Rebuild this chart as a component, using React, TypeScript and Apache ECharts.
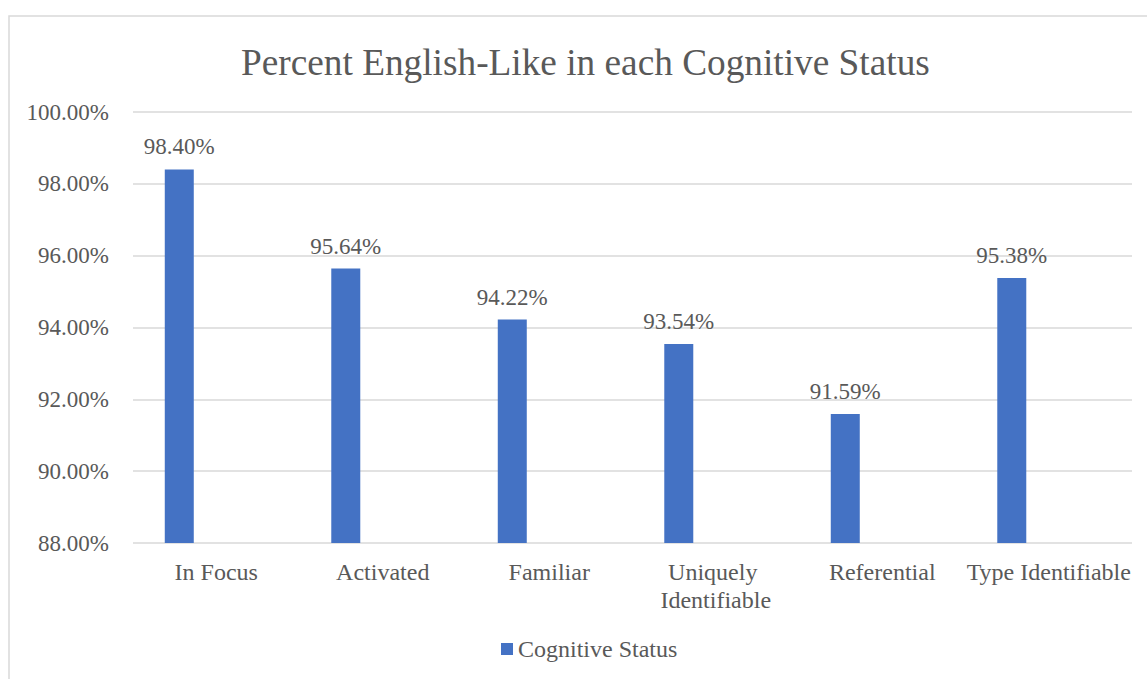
import React, { useEffect, useRef } from "react";
import * as echarts from "echarts";

const categories = [
  "In Focus",
  "Activated",
  "Familiar",
  "Uniquely Identifiable",
  "Referential",
  "Type Identifiable",
];
const englishLikePct = [98.4, 95.64, 94.22, 93.54, 91.59, 95.38];
const yMin = 88;
const yMax = 100;
const yStep = 2;

const FONT = "'Liberation Serif', 'Times New Roman', serif";
const TEXT = "#595959";
const GRID = "#D9D9D9";
const BAR = "#4472C4";

export default function App() {
  const ref = useRef<HTMLDivElement>(null);

  useEffect(() => {
    if (!ref.current) return;
    const chart = echarts.init(ref.current, undefined, { renderer: "svg" });
    chart.setOption({
      animation: false,
      backgroundColor: "#ffffff",
      textStyle: { fontFamily: FONT, color: TEXT },
      graphic: [
        {
          type: "rect",
          silent: true,
          shape: { x: 9, y: 16, width: 1160, height: 700 },
          style: { fill: "none", stroke: GRID, lineWidth: 1.5 },
          z: -1,
        },
      ],
      title: {
        text: "Percent English-Like in each Cognitive Status",
        left: 236,
        top: 39,
        textStyle: {
          fontFamily: FONT,
          fontSize: 37.3,
          fontWeight: "normal",
          color: TEXT,
        },
      },
      legend: {
        data: ["Cognitive Status"],
        bottom: 13,
        left: 496,
        icon: "rect",
        itemWidth: 12,
        itemHeight: 12,
        itemGap: 5,
        textStyle: { fontFamily: FONT, fontSize: 24, color: TEXT },
      },
      grid: { left: 133, right: 15, top: 112, bottom: 136 },
      xAxis: {
        type: "category",
        data: categories,
        axisLine: { show: false },
        axisTick: { show: false },
        axisLabel: {
          interval: 0,
          margin: 15,
          fontFamily: FONT,
          fontSize: 24,
          lineHeight: 28,
          color: TEXT,
          width: 172,
          overflow: "break",
        },
      },
      yAxis: {
        type: "value",
        min: yMin,
        max: yMax,
        interval: yStep,
        axisLine: { show: false },
        axisTick: { show: false },
        splitLine: { lineStyle: { color: GRID, width: 1.5 } },
        axisLabel: {
          margin: 24,
          fontFamily: FONT,
          fontSize: 23,
          color: TEXT,
          formatter: (v: number) => v.toFixed(2) + "%",
        },
      },
      series: [
        {
          name: "Cognitive Status",
          type: "bar",
          data: englishLikePct,
          barWidth: 29,
          barGap: "155%",
          itemStyle: { color: BAR },
          label: {
            show: true,
            position: "top",
            distance: 11,
            fontFamily: FONT,
            fontSize: 23,
            color: TEXT,
            formatter: (p: any) => Number(p.value).toFixed(2) + "%",
          },
        },
        {
          name: "spacer",
          type: "bar",
          data: [],
          barWidth: 29,
          itemStyle: { color: "transparent" },
        },
      ],
    });
    return () => chart.dispose();
  }, []);

  return (
    <div
      ref={ref}
      style={{ position: "fixed", left: 0, top: 0, width: 1147, height: 679 }}
    />
  );
}
